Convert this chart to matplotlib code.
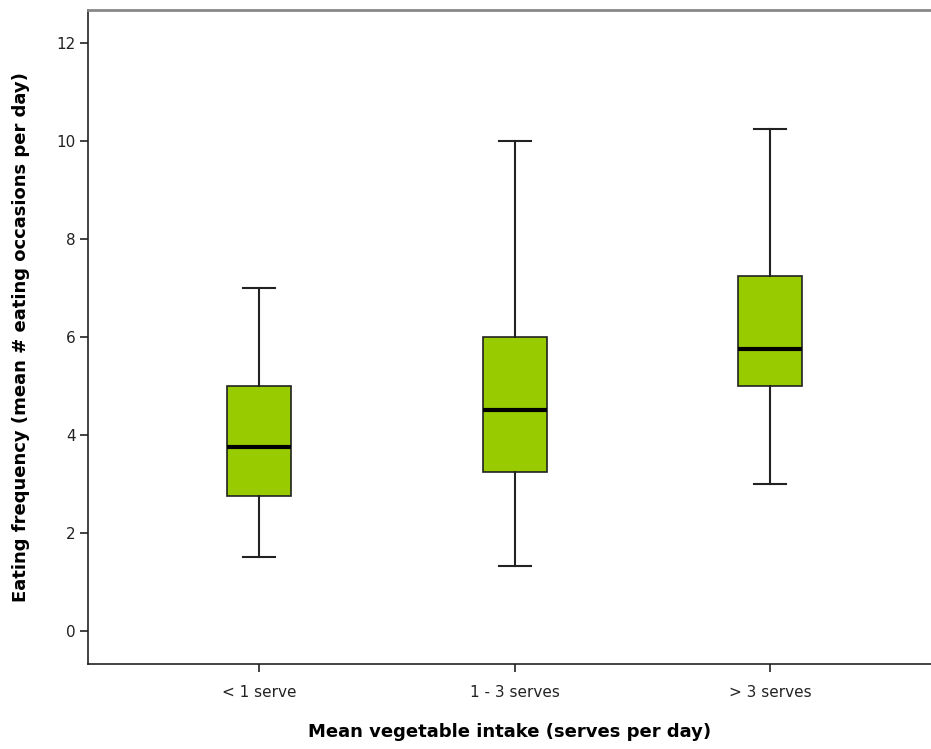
import matplotlib
matplotlib.use("Agg")
import matplotlib.pyplot as plt

categories = ["< 1 serve", "1 - 3 serves", "> 3 serves"]
whislo = [1.5, 1.33, 3.0]
q1 = [2.75, 3.25, 5.0]
med = [3.75, 4.5, 5.75]
q3 = [5.0, 6.0, 7.25]
whishi = [7.0, 10.0, 10.25]

stats = []
for i, c in enumerate(categories):
    stats.append(dict(label=c, whislo=whislo[i], q1=q1[i], med=med[i],
                      q3=q3[i], whishi=whishi[i], fliers=[]))

fig = plt.figure(figsize=(9.31, 7.49), dpi=100)
ax = fig.add_axes([88/931, 1-664/749, 1-88/931, (664-10)/749])

ax.bxp(stats, positions=[1, 2, 3], widths=0.25, patch_artist=True,
       showfliers=False,
       boxprops=dict(facecolor="#99CC00", edgecolor="#222222", linewidth=1.2),
       medianprops=dict(color="black", linewidth=3),
       whiskerprops=dict(color="#222222", linewidth=1.5),
       capprops=dict(color="#222222", linewidth=1.5),
       capwidths=0.125)

ax.set_xlim(0.33, 3.63)
ax.set_ylim(-0.673, 12.67)
ax.set_yticks([0, 2, 4, 6, 8, 10, 12])
ax.set_xticks([1, 2, 3])
ax.set_xticklabels(categories)
ax.tick_params(axis="both", labelsize=11, colors="#222222", length=6, width=1.2)
ax.tick_params(axis="x", pad=9)
ax.tick_params(axis="y", pad=3)

ax.spines["right"].set_visible(False)
ax.spines["top"].set_color("#888888")
ax.spines["top"].set_linewidth(2)
ax.spines["left"].set_linewidth(1.2)
ax.spines["bottom"].set_linewidth(1.2)
ax.spines["left"].set_color("#222222")
ax.spines["bottom"].set_color("#222222")

ax.set_xlabel("Mean vegetable intake (serves per day)", fontsize=13,
              fontweight="bold", labelpad=17)
ax.set_ylabel("Eating frequency (mean # eating occasions per day)", fontsize=13,
              fontweight="bold", labelpad=19)

fig.savefig("out.png", dpi=100)
